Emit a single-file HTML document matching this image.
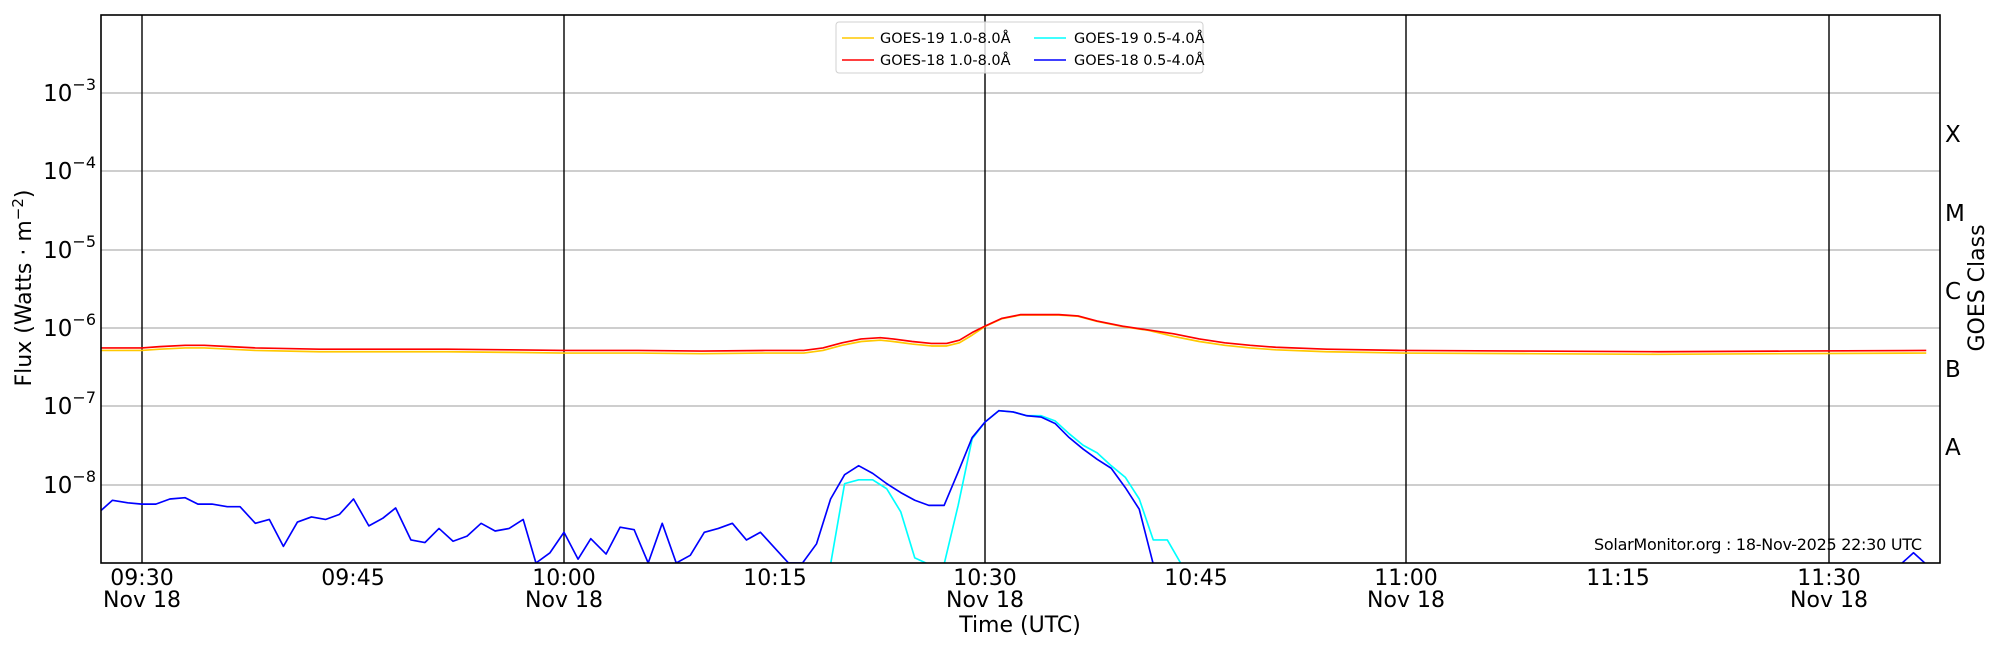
<!DOCTYPE html>
<html><head><meta charset="utf-8"><style>
html,body{margin:0;padding:0;background:#fff;}
svg{display:block;font-family:"DejaVu Sans","Liberation Sans",sans-serif;}
</style></head><body>
<svg id="s" width="2000" height="650" viewBox="0 0 2000 650" xmlns="http://www.w3.org/2000/svg">
<rect width="2000" height="650" fill="#fff"/>
<g id="grid" stroke="#b0b0b0" stroke-width="1.3">
<line x1="101" x2="1940" y1="93" y2="93"/><line x1="101" x2="1940" y1="171" y2="171"/>
<line x1="101" x2="1940" y1="250" y2="250"/><line x1="101" x2="1940" y1="328" y2="328"/>
<line x1="101" x2="1940" y1="406" y2="406"/><line x1="101" x2="1940" y1="485" y2="485"/>
</g>
<g stroke="#000" stroke-width="1.4">
<line x1="142" x2="142" y1="15" y2="563"/><line x1="564" x2="564" y1="15" y2="563"/>
<line x1="985" x2="985" y1="15" y2="563"/><line x1="1406" x2="1406" y1="15" y2="563"/>
<line x1="1829" x2="1829" y1="15" y2="563"/>
</g>
<g id="ticks" stroke="#000" stroke-width="1.2"></g>
<clipPath id="cp"><rect x="101" y="15" width="1839" height="548"/></clipPath>
<g clip-path="url(#cp)" fill="none" stroke-linejoin="round">
<g transform="translate(101,15) scale(1.2755,1.2804) translate(-79,-12)">
<polyline id="yel" stroke="#ffc800" stroke-width="1.3"/>
<polyline id="red" stroke="#ff0000" stroke-width="1.3"/>
<polyline id="cyan" stroke="#00ffff" stroke-width="1.3"/>
<polyline id="blue" stroke="#0000ff" stroke-width="1.3"/>
</g></g>
<rect x="101" y="15" width="1839" height="548" fill="none" stroke="#000" stroke-width="1.6"/>
<g font-size="23" text-anchor="end" fill="#000">
<text x="96" y="101">10<tspan dy="-11" font-size="16">−3</tspan></text>
<text x="96" y="179">10<tspan dy="-11" font-size="16">−4</tspan></text>
<text x="96" y="258">10<tspan dy="-11" font-size="16">−5</tspan></text>
<text x="96" y="336">10<tspan dy="-11" font-size="16">−6</tspan></text>
<text x="96" y="414">10<tspan dy="-11" font-size="16">−7</tspan></text>
<text x="96" y="493">10<tspan dy="-11" font-size="16">−8</tspan></text>
</g>
<g font-size="22" text-anchor="middle" fill="#000">
<text x="142" y="585">09:30</text><text x="142" y="607">Nov 18</text>
<text x="353" y="585">09:45</text>
<text x="564" y="585">10:00</text><text x="564" y="607">Nov 18</text>
<text x="775" y="585">10:15</text>
<text x="985" y="585">10:30</text><text x="985" y="607">Nov 18</text>
<text x="1196" y="585">10:45</text>
<text x="1406" y="585">11:00</text><text x="1406" y="607">Nov 18</text>
<text x="1618" y="585">11:15</text>
<text x="1829" y="585">11:30</text><text x="1829" y="607">Nov 18</text>
<text x="1020" y="632">Time (UTC)</text>
<text transform="translate(31,288) rotate(-90)">Flux (Watts · m<tspan dy="-8" font-size="15">−2</tspan><tspan dy="8">)</tspan></text>
<text transform="translate(1984,288) rotate(-90)">GOES Class</text>
</g>
<g font-size="23" fill="#000">
<text x="1945" y="142">X</text><text x="1945" y="221">M</text><text x="1945" y="299">C</text>
<text x="1945" y="377">B</text><text x="1945" y="455">A</text>
</g>
<text x="1594" y="550" font-size="16" textLength="328">SolarMonitor.org : 18-Nov-2025 22:30 UTC</text>
<g>
<rect x="836" y="22" width="367" height="51" rx="3" fill="#fff" fill-opacity="0.8" stroke="#d0d0d0"/>
<line x1="842" x2="874" y1="38" y2="38" stroke="#ffc800" stroke-width="1.5"/>
<line x1="842" x2="874" y1="60" y2="60" stroke="#ff0000" stroke-width="1.5"/>
<line x1="1034" x2="1066" y1="38" y2="38" stroke="#00ffff" stroke-width="1.5"/>
<line x1="1034" x2="1066" y1="60" y2="60" stroke="#0000ff" stroke-width="1.5"/>
<g font-size="14.5" fill="#000">
<text x="880" y="43">GOES-19 1.0-8.0Å</text><text x="880" y="65">GOES-18 1.0-8.0Å</text>
<text x="1074" y="43">GOES-19 0.5-4.0Å</text><text x="1074" y="65">GOES-18 0.5-4.0Å</text>
</g></g>
<script>
var t=document.getElementById('ticks'),h='';
for(var d=0;d<7;d++){var base=93+78.3*(d-1);for(var k=1;k<10;k++){var y=base+78.3-78.3*Math.log10(k);var L=(k==1)?11:7;if(y<15||y>563)continue;
h+='<line x1="101" x2="'+(101+L)+'" y1="'+y+'" y2="'+y+'"/><line x1="1940" x2="'+(1940-L)+'" y1="'+y+'" y2="'+y+'"/>';}}
[142,353,564,775,985,1196,1406,1618,1829].forEach(function(x){h+='<line x1="'+x+'" x2="'+x+'" y1="563" y2="553"/>';});
t.innerHTML=h;
var red=[[79,272],[111,272],[125,271],[145,270],[160,270],[180,271],[200,272],[250,273],[300,273],[350,273],[400,273.5],[442,274],[500,274],[550,274.5],[600,274],[630,274],[645,272],[660,268],[675,265],[690,264],[700,265],[715,267],[730,268.5],[742,268.5],[752,266],[762,260],[772,255],[785,249],[800,246],[830,246],[845,247],[860,251],[880,255],[900,258],[920,261],[940,265],[960,268],[980,270],[1000,271.5],[1040,273],[1100,274],[1200,274.5],[1300,275],[1400,274.5],[1510,274]];
var yel=red.map(function(p){var o=(p[0]>=770&&p[0]<=900)?0.3:2;return [p[0],p[1]+o];});
var blue=[[79,399],[88,391],[100,393],[111,394],[122,394],[133,390],[145,389],[155,394],[166,394],[178,396],[188,396],[200,409],[211,406],[222,427],[233,408],[244,404],[255,406],[266,402],[277,390],[289,411],[300,405],[310,397],[322,422],[333,424],[344,413],[355,423],[366,419],[377,409],[388,415],[399,413],[410,406],[420,440],[431,432],[442,416],[453,437],[463,421],[475,433],[486,412],[497,414],[508,440],[519,409],[530,440],[541,434],[552,416],[563,413],[574,409],[585,422],[596,416],[607,428],[618,440],[629,440],[640,425],[651,390],[662,371],[673,364],[684,370],[695,378],[706,385],[717,391],[728,395],[740,395],[751,369],[762,342],[772,330],[783,321],[794,322],[805,325],[816,326],[827,331],[838,342],[849,351],[860,359],[871,366],[882,381],[893,398],[904,441],[1490,441],[1500,432],[1510,441]];
var cyan=[[640,441],[651,441],[662,378],[673,375],[684,375],[695,382],[706,400],[717,436],[728,441],[740,441],[751,395],[762,343],[772,330],[783,321],[794,322],[805,325],[816,325],[827,329],[838,339],[849,348],[860,354],[871,364],[882,373],[893,390],[904,422],[915,422],[926,441],[1510,441]];
function s(a){return a.map(function(p){return p[0]+','+p[1];}).join(' ');}
document.getElementById('red').setAttribute('points',s(red));
document.getElementById('yel').setAttribute('points',s(yel));
document.getElementById('blue').setAttribute('points',s(blue));
document.getElementById('cyan').setAttribute('points',s(cyan));
</script>
</svg>
</body></html>
